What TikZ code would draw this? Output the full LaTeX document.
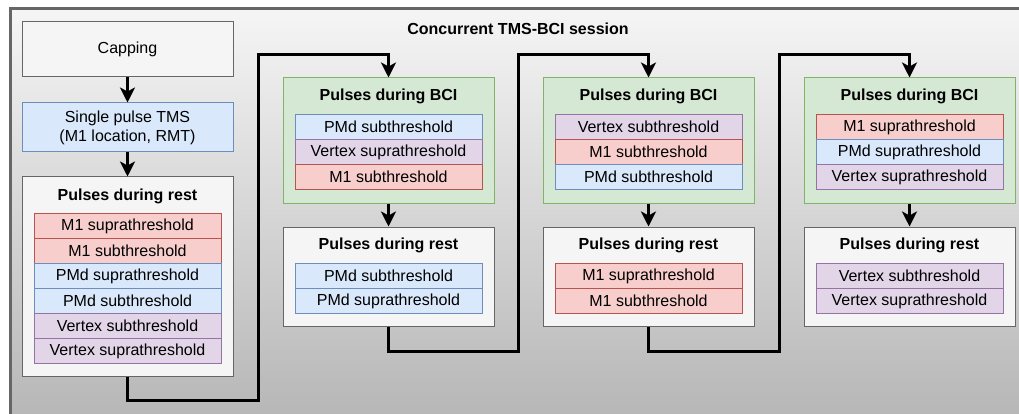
\documentclass[tikz,border=0pt]{standalone}
\usepackage{fontspec}
\setmainfont{Liberation Sans}
\usetikzlibrary{arrows.meta}
\usetikzlibrary{calc}

\definecolor{bgtop}{HTML}{F5F5F5}
\definecolor{bgbot}{HTML}{B3B3B3}
\definecolor{frameline}{HTML}{666666}
\definecolor{restfill}{HTML}{F5F5F5}
\definecolor{restline}{HTML}{666666}
\definecolor{bcifill}{HTML}{D5E8D4}
\definecolor{bciline}{HTML}{82B366}
\definecolor{mfill}{HTML}{F8CECC}
\definecolor{mline}{HTML}{B85450}
\definecolor{pfill}{HTML}{DAE8FC}
\definecolor{pline}{HTML}{6C8EBF}
\definecolor{vfill}{HTML}{E1D5E7}
\definecolor{vline}{HTML}{9673A6}

\newcommand{\boxfont}{\fontsize{16}{19.2}\selectfont}

\tikzset{
    box/.style={draw=restline, fill=restfill, line width=1pt, minimum width=211pt, inner sep=0pt, align=center},
    restbox/.style={box, minimum height=99pt},
    bcibox/.style={box, draw=bciline, fill=bcifill, minimum height=125pt},
    heading/.style={font=\boxfont\bfseries},
    item/.style={line width=1pt, minimum width=187pt, minimum height=25pt, inner sep=0pt},
    mone/.style={item, draw=mline, fill=mfill},
    pmd/.style={item, draw=pline, fill=pfill},
    vtx/.style={item, draw=vline, fill=vfill},
    flow/.style={line width=3pt, -{Stealth[length=15pt,width=15pt,inset=4pt]}},
}

\begin{document}
\begin{tikzpicture}[x=1pt, y=-1pt, font=\boxfont]
        \useasboundingbox (0,0) rectangle (1019,414);
        \clip (0,0) rectangle (1019,414);

        % session frame
        \shade[top color=bgtop, bottom color=bgbot] (10.5,9) rectangle (1040,440);
        \draw[frameline, line width=3pt] (10.5,9) rectangle (1040,440);
        \node[heading] (title) at (518,28.5) {Concurrent TMS-BCI session};

        % first column
        \node[box, minimum height=55pt] (cap) at (127.5,49.5) {Capping};
        \node[box, draw=pline, fill=pfill, minimum height=49pt] (tms) at (127.5,127.5) {Single pulse TMS\\(M1 location, RMT)};
        \node[box, minimum height=199pt] (rest1) at (127.5,276.5) {};
        \node[heading] (rest1t) at ($(rest1.north)+(0,19.5)$) {Pulses during rest};
        \node[mone] (r1a) at ($(rest1.north)+(0,49.5)$) {M1 suprathreshold};
        \node[mone] (r1b) at ($(r1a)+(0,25)$) {M1 subthreshold};
        \node[pmd] (r1c) at ($(r1b)+(0,25)$) {PMd suprathreshold};
        \node[pmd] (r1d) at ($(r1c)+(0,25)$) {PMd subthreshold};
        \node[vtx] (r1e) at ($(r1d)+(0,25)$) {Vertex subthreshold};
        \node[vtx] (r1f) at ($(r1e)+(0,25)$) {Vertex suprathreshold};

        % second column
        \node[bcibox] (bci2) at (388.5,140.5) {};
        \node[heading] (bci2t) at ($(bci2.north)+(0,19)$) {Pulses during BCI};
        \node[pmd] (b2a) at ($(bci2.north)+(0,49.5)$) {PMd subthreshold};
        \node[vtx] (b2b) at ($(b2a)+(0,25)$) {Vertex suprathreshold};
        \node[mone] (b2c) at ($(b2b)+(0,25)$) {M1 subthreshold};
        \node[restbox] (rest2) at (388.5,276.5) {};
        \node[heading] (rest2t) at ($(rest2.north)+(0,19)$) {Pulses during rest};
        \node[pmd] (r2a) at ($(rest2.north)+(0,49.5)$) {PMd subthreshold};
        \node[pmd] (r2b) at ($(r2a)+(0,25)$) {PMd suprathreshold};

        % third column
        \node[bcibox] (bci3) at (648.5,140.5) {};
        \node[heading] (bci3t) at ($(bci3.north)+(0,19)$) {Pulses during BCI};
        \node[vtx] (b3a) at ($(bci3.north)+(0,49.5)$) {Vertex subthreshold};
        \node[mone] (b3b) at ($(b3a)+(0,25)$) {M1 subthreshold};
        \node[pmd] (b3c) at ($(b3b)+(0,25)$) {PMd subthreshold};
        \node[restbox] (rest3) at (648.5,276.5) {};
        \node[heading] (rest3t) at ($(rest3.north)+(0,19)$) {Pulses during rest};
        \node[mone] (r3a) at ($(rest3.north)+(0,49.5)$) {M1 suprathreshold};
        \node[mone] (r3b) at ($(r3a)+(0,25)$) {M1 subthreshold};

        % fourth column
        \node[bcibox] (bci4) at (909.5,140.5) {};
        \node[heading] (bci4t) at ($(bci4.north)+(0,19)$) {Pulses during BCI};
        \node[mone] (b4a) at ($(bci4.north)+(0,49.5)$) {M1 suprathreshold};
        \node[pmd] (b4b) at ($(b4a)+(0,25)$) {PMd suprathreshold};
        \node[vtx] (b4c) at ($(b4b)+(0,25)$) {Vertex suprathreshold};
        \node[restbox] (rest4) at (909.5,276.5) {};
        \node[heading] (rest4t) at ($(rest4.north)+(0,19)$) {Pulses during rest};
        \node[vtx] (r4a) at ($(rest4.north)+(0,49.5)$) {Vertex subthreshold};
        \node[vtx] (r4b) at ($(r4a)+(0,25)$) {Vertex suprathreshold};

        % bends of the connectors
        \coordinate (k1) at (258.5,400);
        \coordinate (k1up) at (258.5,54.5);
        \coordinate (k2) at (518.5,351);
        \coordinate (k2up) at (518.5,54.5);
        \coordinate (k3) at (779.5,351);
        \coordinate (k3up) at (779.5,54.5);

        % arrows
        \draw[flow] (cap) -- (tms);
        \draw[flow] (tms) -- (rest1);
        \draw[flow] (rest1.south) |- (k1) -- (k1up) -| (bci2.north);
        \draw[flow] (bci2) -- (rest2);
        \draw[flow] (rest2.south) |- (k2) -- (k2up) -| (bci3.north);
        \draw[flow] (bci3) -- (rest3);
        \draw[flow] (rest3.south) |- (k3) -- (k3up) -| (bci4.north);
        \draw[flow] (bci4) -- (rest4);
    \end{tikzpicture}
\end{document}
